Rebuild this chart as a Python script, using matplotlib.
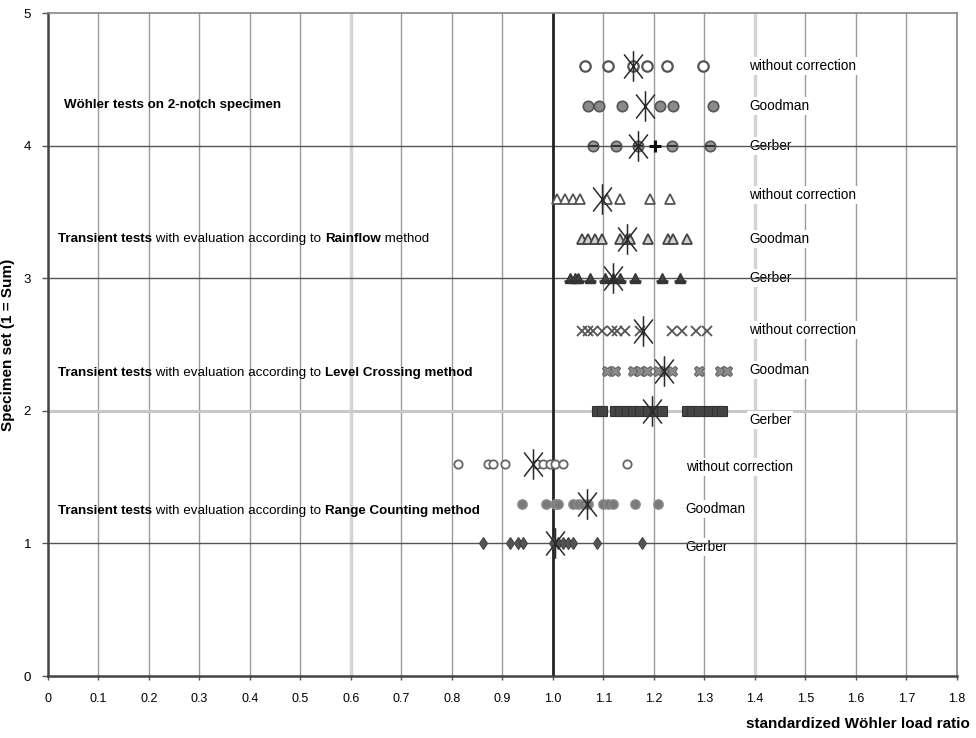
import matplotlib
matplotlib.use('Agg')
import matplotlib.pyplot as plt
from matplotlib.path import Path
import numpy as np

plt.rcParams['font.family'] = ['Liberation Sans', 'DejaVu Sans']

# x tick labels and y ticks
x_ticks = [0, 0.1, 0.2, 0.3, 0.4, 0.5, 0.6, 0.7, 0.8, 0.9, 1.0,
           1.1, 1.2, 1.3, 1.4, 1.5, 1.6, 1.7, 1.8]
x_tick_labels = ['0', '0.1', '0.2', '0.3', '0.4', '0.5', '0.6', '0.7', '0.8', '0.9', '1.0',
                 '1.1', '1.2', '1.3', '1.4', '1.5', '1.6', '1.7', '1.8']
y_ticks = [0, 1, 2, 3, 4, 5]

# row positions (specimen set)
row_y = {
    'woehler': [4.6, 4.3, 4.0],
    'rainflow': [3.6, 3.3, 3.0],
    'level': [2.6, 2.3, 2.0],
    'range': [1.6, 1.3, 1.0],
}

# Woehler tests on 2-notch specimen
woehler_none = [1.063, 1.109, 1.158, 1.186, 1.226, 1.297]
woehler_goodman = [1.069, 1.091, 1.137, 1.212, 1.238, 1.317]
woehler_gerber = [1.079, 1.124, 1.168, 1.236, 1.311]
woehler_gerber_plus = [1.202]
woehler_mean = [1.158, 1.182, 1.168]

# Rainflow
rainflow_none = [1.008, 1.024, 1.040, 1.053, 1.107, 1.133, 1.192, 1.232]
rainflow_goodman = [1.058, 1.069, 1.083, 1.097, 1.133, 1.146, 1.152, 1.188, 1.228, 1.238, 1.265]
rainflow_gerber = [1.034, 1.044, 1.050, 1.073, 1.103, 1.119, 1.133, 1.162, 1.216, 1.251]
rainflow_mean = [1.097, 1.146, 1.119]

# Level Crossing
level_none = [1.058, 1.069, 1.079, 1.097, 1.117, 1.127, 1.143, 1.172, 1.236, 1.256, 1.284, 1.306]
level_goodman = [1.107, 1.123, 1.158, 1.172, 1.186, 1.208, 1.222, 1.236, 1.290, 1.330, 1.344]
level_gerber = [1.087, 1.097, 1.123, 1.133, 1.146, 1.158, 1.172, 1.188, 1.202, 1.216,
                1.265, 1.276, 1.290, 1.310, 1.324, 1.334]
level_mean = [1.178, 1.220, 1.196]

# Range Counting
range_none = [0.812, 0.871, 0.881, 0.905, 0.968, 0.980, 0.994, 1.004, 1.020, 1.147]
range_goodman = [0.939, 0.986, 1.004, 1.010, 1.040, 1.050, 1.059, 1.069, 1.099, 1.109,
                 1.119, 1.162, 1.208]
range_gerber = [0.861, 0.915, 0.931, 0.941, 1.000, 1.010, 1.020, 1.030, 1.040, 1.087, 1.176]
range_mean = [0.960, 1.067, 1.004]

row_labels = ['without correction', 'Goodman', 'Gerber']

# asterisk for the mean: vertical stroke plus two steep diagonals
ang = np.deg2rad(52)
star = Path([(0, -1), (0, 1),
             (-np.cos(ang), -np.sin(ang)), (np.cos(ang), np.sin(ang)),
             (-np.cos(ang), np.sin(ang)), (np.cos(ang), -np.sin(ang))],
            [Path.MOVETO, Path.LINETO, Path.MOVETO, Path.LINETO, Path.MOVETO, Path.LINETO])

fig = plt.figure(figsize=(9.76, 7.38), dpi=100)
ax = fig.add_axes([0.049, 0.084, 0.9315, 0.898])
ax.set_xlim(0, 1.8)
ax.set_ylim(0, 5)

# grid
for x in x_ticks[1:]:
    if x in (0.6, 1.4):
        ax.axvline(x, color='#d4d4d4', lw=2.5, zorder=0)
    elif x == 1.0:
        continue
    else:
        ax.axvline(x, color='#9a9a9a', lw=1, zorder=0)
ax.axhline(2, color='#c8c8c8', lw=2.2, zorder=0)

# row labels on the right (white boxes hide grid)
label_x = {'woehler': 1.388, 'rainflow': 1.388, 'level': 1.388, 'range': 1.263}
label_dy = {'woehler': [0.0, 0.0, 0.0], 'rainflow': [0.03, 0.0, 0.0],
            'level': [0.01, 0.01, -0.07], 'range': [-0.02, -0.04, -0.03]}
for key in row_y:
    for lab, y, dy in zip(row_labels, row_y[key], label_dy[key]):
        ax.text(label_x[key], y + dy, lab, fontsize=9.8, va='center', ha='left', zorder=1,
                bbox=dict(boxstyle='square,pad=0.15', facecolor='white', edgecolor='none'))

# dark lines above the label boxes
for y in (1, 3, 4):
    ax.axhline(y, color='#555555', lw=1, zorder=2)
ax.axvline(1.0, color='#222222', lw=2, zorder=2)

ms = 7.5
def row(xs, y, **kw):
    ax.plot(xs, [y] * len(xs), ls='none', zorder=3, **kw)

wy = row_y['woehler']
row(woehler_none, wy[0], marker='o', ms=ms, mfc='white', mec='#555555', mew=1.6)
row(woehler_goodman, wy[1], marker='o', ms=ms, mfc='#8a8a8a', mec='#555555', mew=1.2)
row(woehler_gerber, wy[2], marker='o', ms=ms, mfc='#9a9a9a', mec='#555555', mew=1.2)
row(woehler_gerber, wy[2], marker='_', ms=ms, color='#333333', mew=1.5)
row(woehler_gerber_plus, wy[2], marker='+', ms=9, color='#111111', mew=2.2)

ry = row_y['rainflow']
row(rainflow_none, ry[0], marker='^', ms=ms, mfc='white', mec='#555555', mew=1.3)
row(rainflow_goodman, ry[1], marker='^', ms=ms, mfc='#d0d0d0', mec='#444444', mew=1.3)
row(rainflow_gerber, ry[2], marker='^', ms=ms, mfc='#444444', mec='#333333', mew=1)
row(rainflow_gerber, ry[2] - 0.02, marker='_', ms=9, color='#333333', mew=1.8)

ly = row_y['level']
row(level_none, ly[0], marker='x', ms=6.5, color='#555555', mew=1.3)
row(level_goodman, ly[1], marker='X', ms=ms, mfc='#8a8a8a', mec='#666666', mew=0.8)
row(level_gerber, ly[2], marker='s', ms=6.5, mfc='#444444', mec='#333333', mew=0.8)

gy = row_y['range']
row(range_none, gy[0], marker='o', ms=6, mfc='white', mec='#666666', mew=1.3)
row(range_goodman, gy[1], marker='o', ms=6.5, mfc='#7a7a7a', mec='#888888', mew=1.2)
row(range_gerber, gy[2], marker='d', ms=6, mfc='#555555', mec='#444444', mew=0.8)

# mean values (large asterisks)
for key, means in (('woehler', woehler_mean), ('rainflow', rainflow_mean),
                   ('level', level_mean), ('range', range_mean)):
    for xm, y in zip(means, row_y[key]):
        ax.plot([xm], [y], ls='none', marker=star, ms=22, color='#2a2a2a', mew=1.1, zorder=4)

# group titles with mixed weights
def mixed(x, y, parts):
    t = ax.text(x, y, parts[0][0], fontsize=9.6, fontweight=parts[0][1], va='bottom', ha='left', zorder=5)
    for s, w in parts[1:]:
        t = ax.annotate(s, xy=(1, 0), xycoords=t, fontsize=9.6, fontweight=w,
                        va='bottom', ha='left', zorder=5)

mixed(0.032, 4.26, [('Wöhler tests on 2-notch specimen', 'bold')])
mixed(0.021, 3.25, [('Transient tests', 'bold'), (' with evaluation according to ', 'normal'),
                    ('Rainflow', 'bold'), (' method', 'normal')])
mixed(0.021, 2.24, [('Transient tests', 'bold'), (' with evaluation according to ', 'normal'),
                    ('Level Crossing method', 'bold')])
mixed(0.021, 1.20, [('Transient tests', 'bold'), (' with evaluation according to ', 'normal'),
                    ('Range Counting method', 'bold')])

# axes styling
ax.set_xticks(x_ticks)
ax.set_xticklabels(x_tick_labels, fontsize=9)
ax.set_yticks(y_ticks)
ax.set_yticklabels([str(v) for v in y_ticks], fontsize=9.5)
ax.tick_params(axis='x', length=3, width=1, color='#555555', pad=9)
ax.tick_params(axis='y', length=4, width=1, color='#555555', pad=8)
for side in ('left', 'bottom'):
    ax.spines[side].set_color('#444444')
    ax.spines[side].set_linewidth(1.8)
for side in ('top', 'right'):
    ax.spines[side].set_color('#888888')
    ax.spines[side].set_linewidth(1.2)

ax.set_ylabel('Specimen set (1 = Sum)', fontsize=11, fontweight='bold', labelpad=6)
fig.text(0.994, 0.01, 'standardized Wöhler load ratio', fontsize=11, fontweight='bold',
         ha='right', va='bottom')

fig.savefig('out.png', dpi=100)
